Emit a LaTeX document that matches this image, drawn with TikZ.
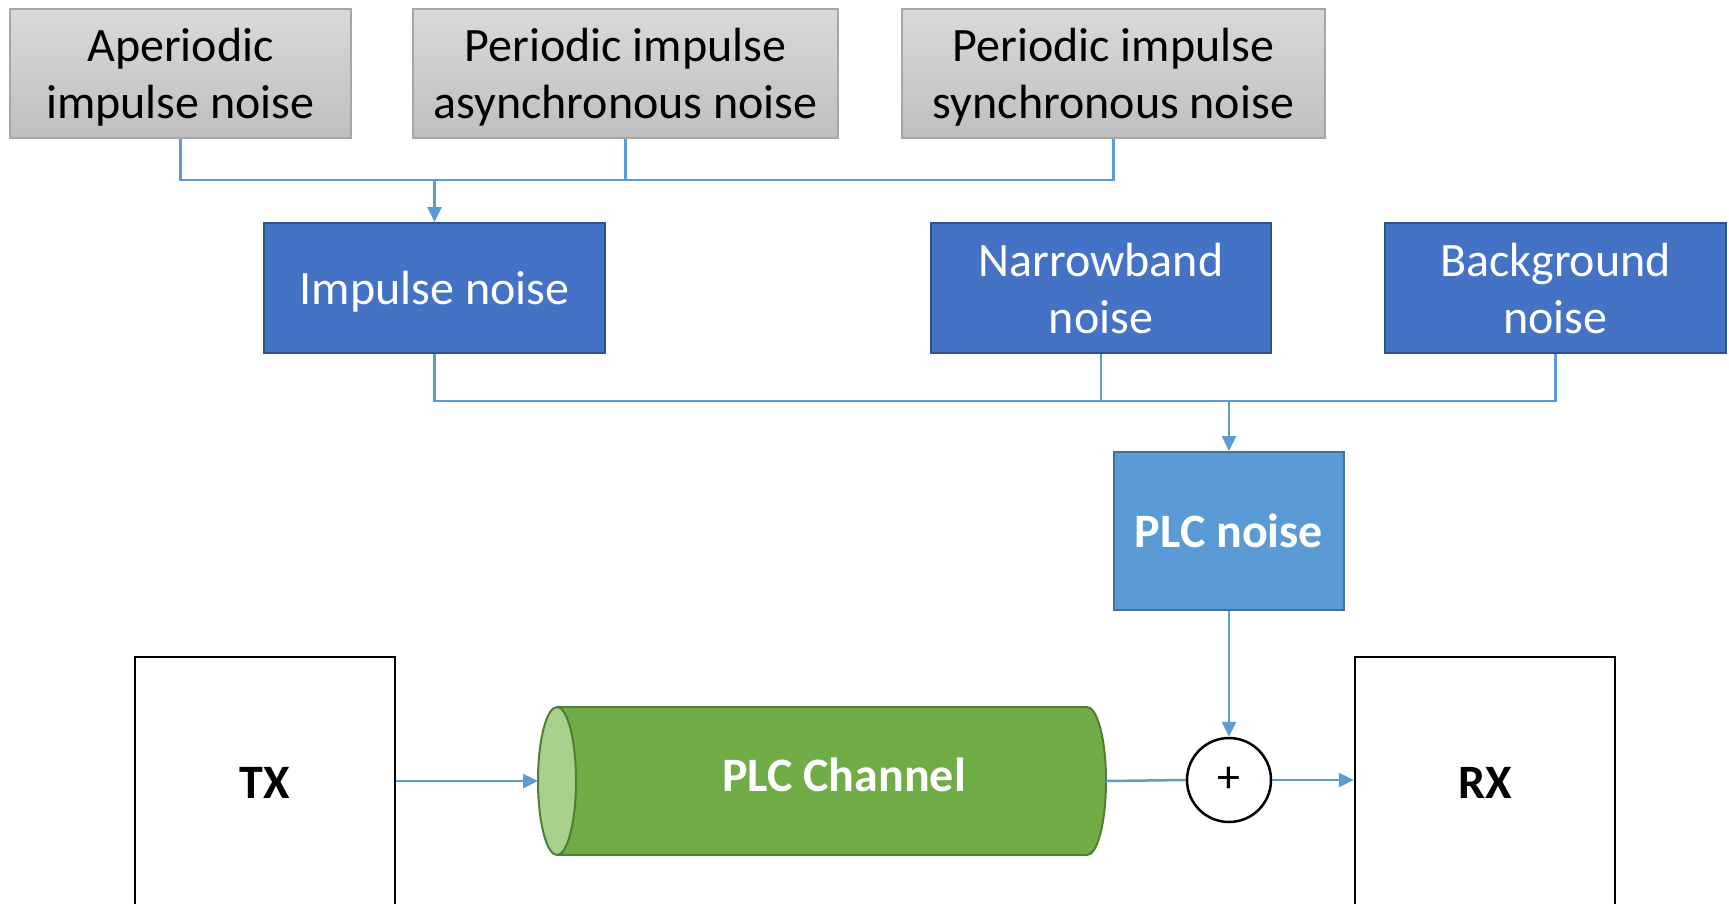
\documentclass[tikz,border=0pt]{standalone}
\usepackage{fontspec}
\setmainfont{Carlito}
\usetikzlibrary{arrows.meta}

\definecolor{linkblue}{HTML}{5B9BD5}
\definecolor{boxblue}{HTML}{4472C4}
\definecolor{boxblueedge}{HTML}{2F528F}
\definecolor{plcblue}{HTML}{5B9BD5}
\definecolor{plcedge}{HTML}{41719C}
\definecolor{graytop}{HTML}{D9D9D9}
\definecolor{graybot}{HTML}{BFBFBF}
\definecolor{grayedge}{HTML}{A6A6A6}
\definecolor{chanbody}{HTML}{70AD47}
\definecolor{chanedge}{HTML}{507E32}
\definecolor{chanend}{HTML}{A9D18E}

\tikzset{
  txt/.style={font=\fontsize{48}{57}\selectfont, align=center},
  oneline/.style={text height=40pt, text depth=8pt},
  twoline/.style={text height=101pt, text depth=11pt},
  graybox/.style={txt, twoline, draw=grayedge, line width=1.5pt, top color=graytop, bottom color=graybot,
    inner sep=0pt, minimum height=129pt},
  bluebox/.style={txt, draw=boxblueedge, line width=2pt, fill=boxblue, text=white,
    inner sep=0pt, minimum width=341pt, minimum height=130pt},
  plcbox/.style={txt, oneline, draw=plcedge, line width=2pt, fill=plcblue, text=white,
    font=\fontsize{48}{57}\selectfont\bfseries, inner sep=0pt, minimum width=230pt, minimum height=158pt},
  endbox/.style={txt, draw=black, line width=2.5pt, font=\fontsize{48}{57}\selectfont\bfseries,
    inner sep=0pt, minimum width=260pt, minimum height=252pt},
  sumnode/.style={circle, draw=black, line width=2.5pt, fill=white, inner sep=0pt, minimum size=84pt,
    font=\fontsize{46}{50}\selectfont},
  link/.style={draw=linkblue, line width=2.5pt},
  arrowlink/.style={link, -{Triangle[length=15pt,width=14pt]}},
}

\begin{document}
\begin{tikzpicture}[x=1pt, y=-1pt]
\useasboundingbox (0,0) rectangle (1729,903);

% noise sources
\node[graybox, minimum width=341pt] (ape) at (180.5,73.5) {Aperiodic\\impulse noise};
\node[graybox, minimum width=425pt] (pan) at (625.5,73.5) {Periodic impulse\\asynchronous noise};
\node[graybox, minimum width=423pt] (psn) at (1113.5,73.5) {Periodic impulse\\synchronous noise};

\node[bluebox, oneline] (imp) at (434.5,288) {Impulse noise};
\node[bluebox, twoline, minimum width=340pt] (nb) at (1101,288) {Narrowband\\noise};
\node[bluebox, twoline] (bg) at (1555.5,288) {Background\\noise};

\node[plcbox] (plc) at (1229,531) {PLC noise};

% impulse noise bus
\coordinate (busA) at (434.5,180);
\draw[link] (ape.south) |- (psn.south |- busA) -- (psn.south);
\draw[link] (pan.south) -- (pan.south |- busA);
\draw[arrowlink] (busA) -- (imp.north);

% total noise bus
\coordinate (busB) at (1229,401);
\draw[link] (imp.south) |- (bg.south |- busB) -- (bg.south);
\draw[link] (nb.south) -- (nb.south |- busB);
\draw[arrowlink] (busB) -- (plc.north);

% transmitter and receiver
\node[endbox] (tx) at (265,783) {TX};
\node[endbox] (rx) at (1485,783) {RX};

% channel drawn as a lying cylinder
\draw[draw=chanedge, line width=2pt, fill=chanbody] (1087,781) ellipse [x radius=19, y radius=74];
\fill[chanbody] (557,707) rectangle (1087,855);
\draw[draw=chanedge, line width=2pt] (557,707) -- (1087,707) (557,855) -- (1087,855);
\draw[draw=chanedge, line width=2pt, fill=chanend] (557,781) ellipse [x radius=19, y radius=74];
\node[font=\fontsize{48}{57}\selectfont\bfseries, text=white] (chan) at (844,775) {PLC Channel};
\coordinate (chin) at (538,781);
\coordinate (chout) at (1106,781);

\node[sumnode] (sum) at (1229,780) {+};

% signal path
\draw[arrowlink] (tx.east |- chin) -- (chin);
\draw[link] (chout) -- (sum.west);
\draw[arrowlink] (sum.east) -- (rx.west |- sum.east);
\draw[arrowlink] (plc.south) -- (sum.north);
\end{tikzpicture}
\end{document}
